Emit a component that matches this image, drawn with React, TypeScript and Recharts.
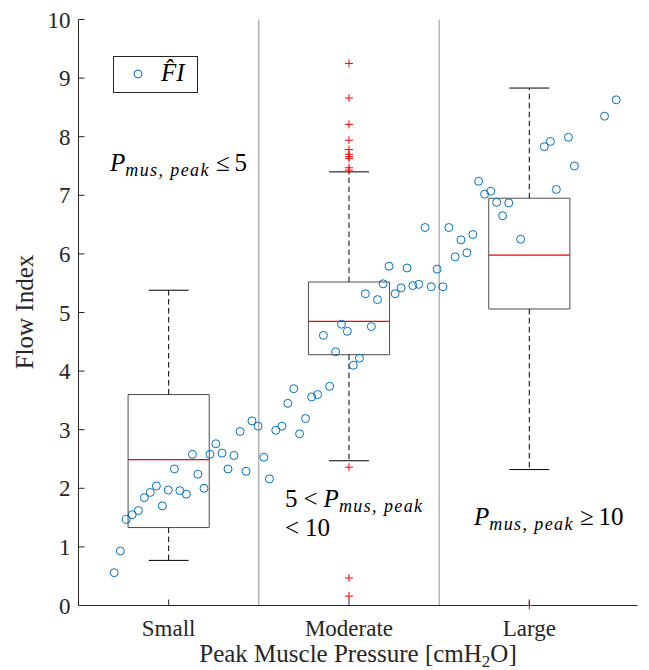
import React from "react";
import { ComposedChart, Scatter, XAxis, YAxis, ReferenceArea, ReferenceLine, Legend } from "recharts";

const SERIF = "'Liberation Serif', 'Times New Roman', serif";
const AXIS = "#262626";
const BLUE = "#0072BD";
const RED = "#FF0000";

const CATEGORIES = ["Small", "Moderate", "Large"];
const CAT_POS = [1, 2, 3];
const Y_TICKS = [0, 1, 2, 3, 4, 5, 6, 7, 8, 9, 10];

// box statistics per category
const Q1 = [1.33, 4.28, 5.06];
const MEDIAN = [2.49, 4.85, 5.98];
const Q3 = [3.6, 5.52, 6.95];
const WHISKER_LO = [0.77, 2.47, 2.32];
const WHISKER_HI = [5.38, 7.4, 8.83];
const OUTLIERS: number[][] = [
  [],
  [9.25, 8.66, 8.21, 7.94, 7.78, 7.7, 7.66, 7.63, 7.47, 7.43, 2.36, 0.47, 0.16],
  [0],
];

// FI-hat estimates
const FI_X = [
  0.698, 0.732, 0.765, 0.798, 0.832, 0.865, 0.898, 0.932, 0.965, 0.998, 1.032, 1.062, 1.098, 1.132, 1.162,
  1.196, 1.229, 1.262, 1.296, 1.329, 1.362, 1.396, 1.429, 1.462, 1.496, 1.528, 1.559, 1.594, 1.628, 1.661,
  1.694, 1.726, 1.759, 1.793, 1.826, 1.858, 1.893, 1.926, 1.958, 1.991, 2.024, 2.058, 2.091, 2.124, 2.158,
  2.189, 2.222, 2.256, 2.289, 2.322, 2.354, 2.387, 2.422, 2.456, 2.489, 2.521, 2.554, 2.589, 2.621, 2.654,
  2.687, 2.719, 2.752, 2.786, 2.819, 2.852, 2.886, 2.952, 3.083, 3.117, 3.15, 3.217, 3.25, 3.417, 3.482,
];
const FI_Y = [
  0.56, 0.93, 1.47, 1.55, 1.62, 1.84, 1.93, 2.04, 1.7, 1.97, 2.33, 1.96, 1.9, 2.58, 2.24,
  2.0, 2.58, 2.76, 2.6, 2.33, 2.56, 2.97, 2.29, 3.15, 3.06, 2.53, 2.16, 2.99, 3.06, 3.45,
  3.7, 2.93, 3.19, 3.56, 3.6, 4.61, 3.74, 4.33, 4.8, 4.68, 4.1, 4.22, 5.32, 4.76, 5.22,
  5.49, 5.79, 5.32, 5.42, 5.76, 5.46, 5.48, 6.45, 5.44, 5.74, 5.44, 6.45, 5.95, 6.24, 6.02,
  6.33, 7.24, 7.02, 7.07, 6.88, 6.65, 6.87, 6.25, 7.83, 7.92, 7.1, 7.99, 7.5, 8.35, 8.63,
];

const BOX_HALF = 0.225;
const CAP_HALF = 0.111;

const fiData = FI_X.map((x, i) => ({ x, y: FI_Y[i] }));
const outlierData = OUTLIERS.flatMap((vals, i) => vals.map((y) => ({ x: CAT_POS[i], y })));

const textStyle = { fontFamily: SERIF };

const Circle = (props: any) => (
  <circle cx={props.cx} cy={props.cy} r={4} fill="none" stroke={BLUE} strokeWidth={1} />
);

const Plus = (props: any) => {
  const { cx, cy } = props;
  return (
    <g stroke={RED} strokeWidth={1}>
      <line x1={cx - 4} x2={cx + 4} y1={cy} y2={cy} />
      <line x1={cx} x2={cx} y1={cy - 4} y2={cy + 4} />
    </g>
  );
};

const BottomTick = (props: any) => {
  const { x, y, payload } = props;
  return (
    <g>
      <line x1={x} x2={x} y1={y} y2={y - 6} stroke={AXIS} />
      <text x={x} y={y + 30.5} textAnchor="middle" fontSize={23} fill={AXIS} style={textStyle}>
        {CATEGORIES[Math.round(payload.value) - 1]}
      </text>
    </g>
  );
};

const TopTick = (props: any) => <line x1={props.x} x2={props.x} y1={props.y} y2={props.y + 6} stroke={AXIS} />;

const LeftTick = (props: any) => {
  const { x, y, payload } = props;
  return (
    <g>
      <line x1={x} x2={x + 6} y1={y} y2={y} stroke={AXIS} />
      <text x={x - 8} y={y + 8} textAnchor="end" fontSize={23} fill={AXIS} style={textStyle}>
        {payload.value}
      </text>
    </g>
  );
};

const RightTick = (props: any) => <line x1={props.x} x2={props.x - 6} y1={props.y} y2={props.y} stroke={AXIS} />;

const LegendBox = () => (
  <svg width={86} height={38} style={{ display: "block" }}>
    <rect x={0.5} y={0.5} width={84} height={36} fill="#fff" stroke={AXIS} />
    <circle cx={25} cy={18} r={4} fill="none" stroke={BLUE} />
    <text x={48} y={25} fontSize={25} fontStyle="italic" fill="#000" style={textStyle}>
      F̂I
    </text>
  </svg>
);

const Sub = ({ children }: { children: React.ReactNode }) => (
  <tspan fontStyle="italic" fontSize={18} dy={5} letterSpacing={1.4}>
    {children}
  </tspan>
);

const App: React.FC = () => {
  return (
    <div style={{ position: "absolute", left: 0, top: 0, width: 649, height: 670, background: "#fff" }}>
      <ComposedChart width={649} height={670} margin={{ top: 19.5, right: 11.5, bottom: 0, left: 0 }}>
        <XAxis
          dataKey="x"
          type="number"
          domain={[0.5, 3.6]}
          ticks={CAT_POS}
          interval={0}
          height={64.5}
          tickSize={0}
          tickMargin={0}
          tick={<BottomTick />}
          axisLine={{ stroke: AXIS }}
        />
        <XAxis
          xAxisId="top"
          orientation="top"
          type="number"
          domain={[0.5, 3.6]}
          ticks={CAT_POS}
          interval={0}
          height={0}
          tickSize={0}
          tickMargin={0}
          tick={<TopTick />}
          axisLine={{ stroke: AXIS }}
        />
        <YAxis
          type="number"
          domain={[0, 10]}
          ticks={Y_TICKS}
          interval={0}
          width={78.5}
          tickSize={0}
          tickMargin={0}
          tick={<LeftTick />}
          axisLine={{ stroke: AXIS }}
        />
        <YAxis
          yAxisId="right"
          orientation="right"
          type="number"
          domain={[0, 10]}
          ticks={Y_TICKS}
          interval={0}
          width={0}
          tickSize={0}
          tickMargin={0}
          tick={<RightTick />}
          axisLine={{ stroke: AXIS }}
        />

        {/* category separators */}
        <ReferenceLine x={1.5} stroke="#8f8f8f" />
        <ReferenceLine x={2.5} stroke="#8f8f8f" />

        {/* boxes and whiskers */}
        {CAT_POS.map((c, i) => (
          <ReferenceArea
            key={`box-${c}`}
            x1={c - BOX_HALF}
            x2={c + BOX_HALF}
            y1={Q1[i]}
            y2={Q3[i]}
            fill="none"
            fillOpacity={0}
            stroke="#4d4d4d"
            strokeOpacity={1}
          />
        ))}
        {CAT_POS.map((c, i) => (
          <ReferenceLine key={`wh-${c}`} segment={[{ x: c, y: Q3[i] }, { x: c, y: WHISKER_HI[i] }]} stroke="#000" strokeDasharray="5.5 3.5" />
        ))}
        {CAT_POS.map((c, i) => (
          <ReferenceLine key={`wl-${c}`} segment={[{ x: c, y: Q1[i] }, { x: c, y: WHISKER_LO[i] }]} stroke="#000" strokeDasharray="5.5 3.5" />
        ))}
        {CAT_POS.map((c, i) => (
          <ReferenceLine key={`ch-${c}`} segment={[{ x: c - CAP_HALF, y: WHISKER_HI[i] }, { x: c + CAP_HALF, y: WHISKER_HI[i] }]} stroke="#000" />
        ))}
        {CAT_POS.map((c, i) => (
          <ReferenceLine key={`cl-${c}`} segment={[{ x: c - CAP_HALF, y: WHISKER_LO[i] }, { x: c + CAP_HALF, y: WHISKER_LO[i] }]} stroke="#000" />
        ))}
        {CAT_POS.map((c, i) => (
          <ReferenceLine key={`md-${c}`} segment={[{ x: c - BOX_HALF, y: MEDIAN[i] }, { x: c + BOX_HALF, y: MEDIAN[i] }]} stroke={RED} strokeWidth={1.2} />
        ))}

        <Scatter name="outliers" data={outlierData} dataKey="y" shape={<Plus />} isAnimationActive={false} legendType="none" />
        <Scatter name="FI" data={fiData} dataKey="y" shape={<Circle />} isAnimationActive={false} />

        <Legend
          layout="vertical"
          align="center"
          verticalAlign="middle"
          content={<LegendBox />}
          wrapperStyle={{ position: "absolute", left: 113, top: 56, width: 86, height: 38 }}
        />
      </ComposedChart>

      {/* annotations and axis titles */}
      <svg
        width={649}
        height={670}
        style={{ position: "absolute", left: 0, top: 0, pointerEvents: "none", fontFamily: SERIF }}
        fill="#000"
      >
        <text x={110} y={171} fontSize={25}>
          <tspan fontStyle="italic">P</tspan>
          <Sub>mus, peak</Sub>
          <tspan dy={-5} dx={6}>≤</tspan>
          <tspan dx={5}>5</tspan>
        </text>
        <text x={285} y={507} fontSize={25}>
          <tspan>5</tspan>
          <tspan dx={6}>&lt;</tspan>
          <tspan dx={6} fontStyle="italic">P</tspan>
          <Sub>mus, peak</Sub>
        </text>
        <text x={285} y={536} fontSize={25}>
          <tspan>&lt;</tspan>
          <tspan dx={6}>10</tspan>
        </text>
        <text x={474} y={525} fontSize={25}>
          <tspan fontStyle="italic">P</tspan>
          <Sub>mus, peak</Sub>
          <tspan dy={-5} dx={6}>≥</tspan>
          <tspan dx={5}>10</tspan>
        </text>

        <text x={358} y={662} fontSize={25} textAnchor="middle" fill={AXIS}>
          Peak Muscle Pressure [cmH<tspan fontSize={17} dy={5}>2</tspan>
          <tspan dy={-5}>O]</tspan>
        </text>
        <text x={33} y={312} fontSize={25} textAnchor="middle" fill={AXIS} transform="rotate(-90, 33, 312)">
          Flow Index
        </text>
      </svg>
    </div>
  );
};

export default App;
